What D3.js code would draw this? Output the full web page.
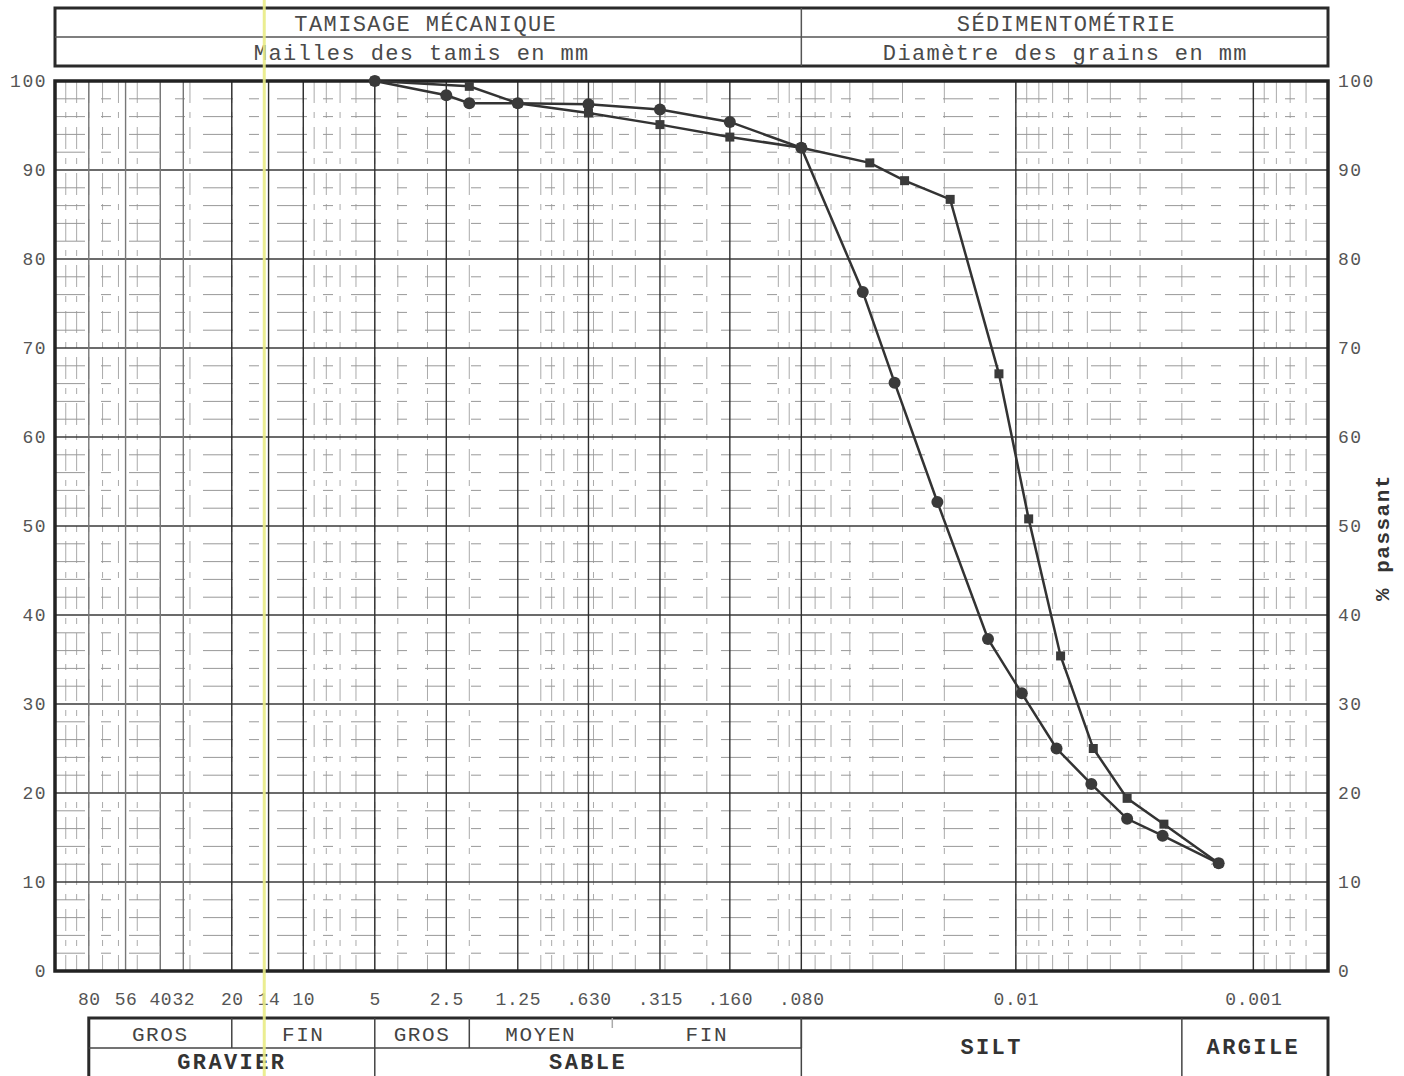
<!DOCTYPE html>
<html>
<head>
<meta charset="utf-8">
<script src="https://cdn.jsdelivr.net/npm/d3@7/dist/d3.min.js"></script>
<style>
  body { margin: 0; background: #fff; }
  text { font-family: 'Liberation Mono', 'DejaVu Sans Mono', monospace; }
</style>
</head>
<body>
<svg width="1404" height="1076"></svg>
<script>
// sieve sizes (mm) labelled under the chart
var sieveSizes = [80, 56, 40, 32, 20, 14, 10, 5, 2.5, 1.25, 0.63, 0.315, 0.16, 0.08, 0.01, 0.001];
var sieveLabels = ['80', '56', '40', '32', '20', '14', '10', '5', '2.5', '1.25', '.630', '.315', '.160', '.080', '0.01', '0.001'];
var yTicks = [0, 10, 20, 30, 40, 50, 60, 70, 80, 90, 100];

// sample 1 (round markers)
var sizesA = [5, 2.5, 2, 1.25, 0.63, 0.315, 0.16, 0.08, 0.0441, 0.0324, 0.0214, 0.0131, 0.00944, 0.00674, 0.00481, 0.0034, 0.00241, 0.0014];
var passA = [100, 98.4, 97.5, 97.5, 97.4, 96.8, 95.4, 92.5, 76.3, 66.1, 52.7, 37.3, 31.2, 25.0, 21.0, 17.1, 15.2, 12.1];
// sample 2 (square markers)
var sizesB = [5, 2, 1.25, 0.63, 0.315, 0.16, 0.08, 0.0412, 0.0294, 0.0189, 0.01178, 0.00883, 0.00648, 0.00472, 0.0034, 0.00238, 0.0014];
var passB = [100, 99.4, 97.5, 96.4, 95.1, 93.7, 92.5, 90.8, 88.8, 86.7, 67.1, 50.8, 35.4, 25.0, 19.4, 16.5, 12.1];

// soil classes: [from, to, name]
var subClasses = [[80, 20, 'GROS'], [20, 5, 'FIN'], [5, 2, 'GROS'], [2, 0.5, 'MOYEN'], [0.5, 0.08, 'FIN']];
var mainClasses = [[80, 5, 'GRAVIER'], [5, 0.08, 'SABLE']];
var fullClasses = [[0.08, 0.002, 'SILT'], [0.002, 0.0005, 'ARGILE']];

var svg = d3.select('svg');
var plotL = 55, plotR = 1328, plotT = 81, plotB = 971;

var x = d3.scaleLog().domain([111, 0.000485]).range([plotL, plotR]);
var y = d3.scaleLinear().domain([0, 100]).range([plotB, plotT]);

var grid = svg.append('g');

// minor log grid (broken, faint lines like the printed paper)
var minor = [];
for (var k = -4; k <= 2; k++) {
  for (var m = 1; m < 10; m++) {
    var v = m * Math.pow(10, k);
    if (v > 0.0005 && v < 110) minor.push(v);
  }
}
grid.selectAll('.vminor')
  .data(minor)
  .enter()
  .append('line')
  .attr('x1', d => x(d)).attr('x2', d => x(d))
  .attr('y1', plotT).attr('y2', plotB)
  .attr('stroke', '#aaa')
  .attr('stroke-width', 1)
  .attr('stroke-dasharray', '22,9,6,9');

grid.selectAll('.hminor')
  .data(d3.range(2, 100, 2).filter(d => d % 10 !== 0))
  .enter()
  .append('line')
  .attr('x1', plotL).attr('x2', plotR)
  .attr('y1', d => y(d)).attr('y2', d => y(d))
  .attr('stroke', '#999')
  .attr('stroke-width', 1)
  .attr('stroke-dasharray', '30,16,10,18');

grid.selectAll('.hmajor')
  .data(yTicks)
  .enter()
  .append('line')
  .attr('x1', plotL).attr('x2', plotR)
  .attr('y1', d => y(d)).attr('y2', d => y(d))
  .attr('stroke', '#3a3a3a')
  .attr('stroke-width', 1.3);

grid.selectAll('.vmajor')
  .data(sieveSizes)
  .enter()
  .append('line')
  .attr('x1', d => x(d)).attr('x2', d => x(d))
  .attr('y1', plotT).attr('y2', plotB)
  .attr('stroke', d => d > 25 ? '#777' : '#2e2e2e')
  .attr('stroke-width', 1.4);

// plot frame
svg.append('rect')
  .attr('x', plotL).attr('y', plotT)
  .attr('width', plotR - plotL).attr('height', plotB - plotT)
  .attr('fill', 'none')
  .attr('stroke', '#222')
  .attr('stroke-width', 3.5);

// header box
var head = svg.append('g');
head.append('rect')
  .attr('x', plotL).attr('y', 8)
  .attr('width', plotR - plotL).attr('height', 58)
  .attr('fill', 'none').attr('stroke', '#2a2a2a').attr('stroke-width', 3);
head.append('line')
  .attr('x1', plotL).attr('x2', plotR).attr('y1', 37).attr('y2', 37)
  .attr('stroke', '#555').attr('stroke-width', 1.5);
head.append('line')
  .attr('x1', x(0.08)).attr('x2', x(0.08)).attr('y1', 8).attr('y2', 66)
  .attr('stroke', '#555').attr('stroke-width', 1.5);

var headText = [
  [x(5) + 51, 31, 'TAMISAGE MÉCANIQUE'],
  [x(5) + 47, 60, 'Mailles des tamis en mm'],
  [x(0.08) + 265, 31, 'SÉDIMENTOMÉTRIE'],
  [x(0.08) + 264, 60, 'Diamètre des grains en mm']
];
head.selectAll('text')
  .data(headText)
  .enter()
  .append('text')
  .attr('x', d => d[0]).attr('y', d => d[1])
  .attr('text-anchor', 'middle')
  .attr('font-size', 22)
  .attr('letter-spacing', 1.4)
  .attr('fill', '#4a4a4a')
  .text(d => d[2]);

// axes: labels only
function styleAxis(g) {
  g.select('.domain').remove();
  g.selectAll('.tick line').remove();
  g.selectAll('.tick text')
    .attr('font-family', "'Liberation Mono', monospace")
    .attr('font-size', 18)
    .attr('letter-spacing', 1.5)
    .attr('fill', '#555');
}
svg.append('g')
  .attr('transform', 'translate(' + (plotL - 8) + ',0)')
  .call(d3.axisLeft(y).tickValues(yTicks).tickSize(0).tickPadding(0))
  .call(styleAxis);
svg.append('g')
  .attr('transform', 'translate(' + (plotR + 10) + ',0)')
  .call(d3.axisRight(y).tickValues(yTicks).tickSize(0).tickPadding(0))
  .call(styleAxis);

svg.append('text')
  .attr('transform', 'translate(1389,' + y(48.7) + ') rotate(-90)')
  .attr('text-anchor', 'middle')
  .attr('font-size', 21)
  .attr('font-weight', 'bold')
  .attr('letter-spacing', 1.5)
  .attr('fill', '#333')
  .text('% passant');

svg.append('g')
  .attr('transform', 'translate(0,' + (plotB + 21) + ')')
  .call(d3.axisBottom(x).tickValues(sieveSizes).tickSize(0).tickPadding(0)
    .tickFormat((d, i) => sieveLabels[i]))
  .call(styleAxis)
  .call(g => g.selectAll('.tick text').attr('letter-spacing', 0.6));

// classification box
var cls = svg.append('g');
var bTop = 1018, bMid = 1048, bBot = 1084;
cls.append('rect')
  .attr('x', x(80)).attr('y', bTop)
  .attr('width', plotR - x(80)).attr('height', bBot - bTop)
  .attr('fill', 'none').attr('stroke', '#2a2a2a').attr('stroke-width', 3);
cls.append('line')
  .attr('x1', x(80)).attr('x2', x(0.08)).attr('y1', bMid).attr('y2', bMid)
  .attr('stroke', '#444').attr('stroke-width', 1.5);
cls.selectAll('.sub')
  .data(subClasses)
  .enter()
  .append('line')
  .attr('x1', d => x(d[1])).attr('x2', d => x(d[1]))
  .attr('y1', bTop).attr('y2', d => d[1] === 0.5 ? bTop + 10 : bMid)
  .attr('stroke', d => d[1] === 0.5 ? '#aaa' : '#444').attr('stroke-width', 1.5);
cls.selectAll('.main')
  .data([5, 0.08, 0.002])
  .enter()
  .append('line')
  .attr('x1', d => x(d)).attr('x2', d => x(d))
  .attr('y1', d => d === 5 ? bMid : bTop).attr('y2', bBot)
  .attr('stroke', '#444').attr('stroke-width', 1.5);

cls.selectAll('.subtext')
  .data(subClasses)
  .enter()
  .append('text')
  .attr('x', d => (x(d[0]) + x(d[1])) / 2)
  .attr('y', bTop + 23)
  .attr('text-anchor', 'middle')
  .attr('font-size', 21)
  .attr('letter-spacing', 1.6)
  .attr('fill', '#444')
  .text(d => d[2]);
cls.selectAll('.maintext')
  .data(mainClasses)
  .enter()
  .append('text')
  .attr('x', d => (x(d[0]) + x(d[1])) / 2)
  .attr('y', bMid + 21)
  .attr('text-anchor', 'middle')
  .attr('font-size', 22)
  .attr('font-weight', 'bold')
  .attr('letter-spacing', 2.4)
  .attr('fill', '#333')
  .text(d => d[2]);
cls.selectAll('.fulltext')
  .data(fullClasses)
  .enter()
  .append('text')
  .attr('x', d => (x(d[0]) + x(d[1])) / 2)
  .attr('y', bTop + 36)
  .attr('text-anchor', 'middle')
  .attr('font-size', 22)
  .attr('font-weight', 'bold')
  .attr('letter-spacing', 2.4)
  .attr('fill', '#333')
  .text(d => d[2]);

// yellow highlighter stroke on the scan
svg.append('line')
  .attr('x1', x(14.6)).attr('x2', x(14.6))
  .attr('y1', 0).attr('y2', 1076)
  .attr('stroke', '#e9ec86').attr('stroke-width', 3).attr('opacity', 0.9);

// curves
var line = d3.line()
  .x(d => x(d[0]))
  .y(d => y(d[1]));
var dataA = d3.zip(sizesA, passA);
var dataB = d3.zip(sizesB, passB);

var plot = svg.append('g');
[dataA, dataB].forEach(function(data) {
  plot.append('path')
    .datum(data)
    .attr('d', line)
    .attr('fill', 'none')
    .attr('stroke', '#333')
    .attr('stroke-width', 2.5);
});

plot.selectAll('.ptA')
  .data(dataA)
  .enter()
  .append('circle')
  .attr('cx', d => x(d[0]))
  .attr('cy', d => y(d[1]))
  .attr('r', 6)
  .attr('fill', '#3a3a3a');

plot.selectAll('.ptB')
  .data(dataB)
  .enter()
  .append('rect')
  .attr('x', d => x(d[0]) - 4.5)
  .attr('y', d => y(d[1]) - 4.5)
  .attr('width', 9).attr('height', 9)
  .attr('fill', '#3a3a3a');
</script>
</body>
</html>
